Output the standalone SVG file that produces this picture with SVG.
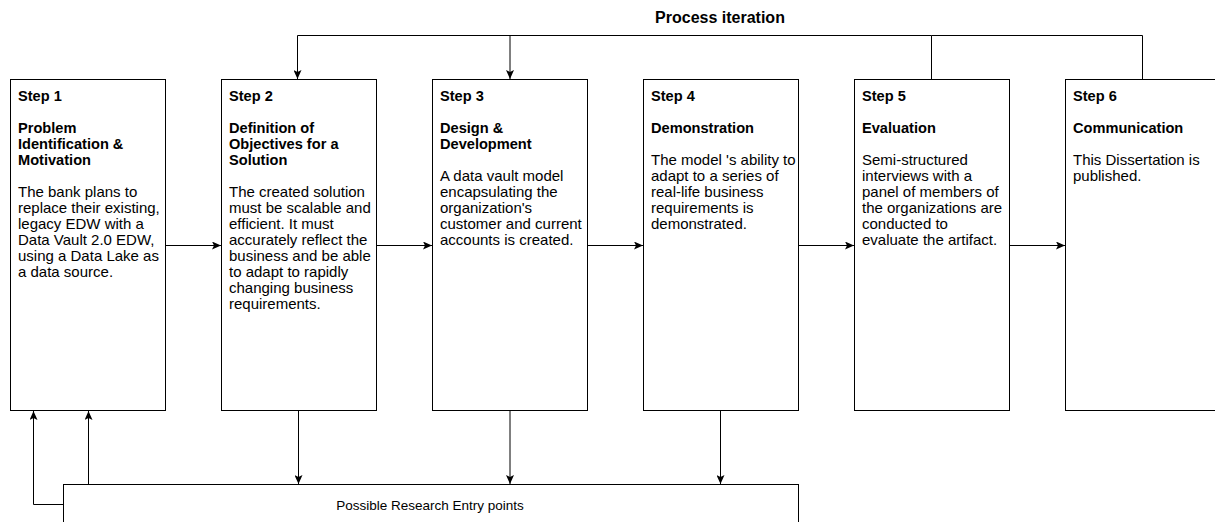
<svg xmlns="http://www.w3.org/2000/svg" width="1215" height="522" viewBox="0 0 1215 522">
<style>
.box{fill:#fff;stroke:#000;stroke-width:1}
.c{fill:none;stroke:#000;stroke-width:1}
text{font-family:"Liberation Sans",Arial,sans-serif;fill:#000}
.b{font-weight:bold;font-size:14.6px}
.t{font-size:15px}
</style>
<defs>
<marker id="ah" viewBox="0 0 9 8" refX="9" refY="4" markerWidth="9" markerHeight="8" markerUnits="userSpaceOnUse" orient="auto">
<path d="M0,0 L9,4 L0,8 L2,4 Z" fill="#000"/>
</marker>
</defs>
<rect width="1215" height="522" fill="#fff"/>
<g id="connectors">
<path class="c" d="M931.5,79.5 V35.5 H297.5 V79" marker-end="url(#ah)"/>
<path class="c" d="M1142.5,79.5 V35.5 H931.5"/>
<path class="c" d="M510,35.5 V79" marker-end="url(#ah)"/>
<path class="c" d="M165.5,245.5 H221" marker-end="url(#ah)"/>
<path class="c" d="M376.5,245.5 H432" marker-end="url(#ah)"/>
<path class="c" d="M587.5,245.5 H643" marker-end="url(#ah)"/>
<path class="c" d="M798.5,245.5 H854" marker-end="url(#ah)"/>
<path class="c" d="M1009.5,245.5 H1065" marker-end="url(#ah)"/>
<path class="c" d="M298.5,410.5 V484" marker-end="url(#ah)"/>
<path class="c" d="M510,410.5 V484" marker-end="url(#ah)"/>
<path class="c" d="M720.5,410.5 V484" marker-end="url(#ah)"/>
<path class="c" d="M88.5,484.5 V411" marker-end="url(#ah)"/>
<path class="c" d="M63.5,504.5 H33.5 V411" marker-end="url(#ah)"/>
</g>
<text class="b" x="720" y="23" text-anchor="middle" style="font-size:16px">Process iteration</text>
<g id="step1">
<rect class="box" x="10.5" y="79.5" width="155" height="331"/>
<text class="b" x="18" y="101">Step 1</text>
<text class="b" x="18" y="132.5">Problem</text>
<text class="b" x="18" y="148.5">Identification &amp;</text>
<text class="b" x="18" y="164.5">Motivation</text>
<text class="t" x="18" y="197">The bank plans to</text>
<text class="t" x="18" y="213">replace their existing,</text>
<text class="t" x="18" y="229">legacy EDW with a</text>
<text class="t" x="18" y="245">Data Vault 2.0 EDW,</text>
<text class="t" x="18" y="261">using a Data Lake as</text>
<text class="t" x="18" y="277">a data source.</text>
</g>
<g id="step2">
<rect class="box" x="221.5" y="79.5" width="155" height="331"/>
<text class="b" x="229" y="101">Step 2</text>
<text class="b" x="229" y="132.5">Definition of</text>
<text class="b" x="229" y="148.5">Objectives for a</text>
<text class="b" x="229" y="164.5">Solution</text>
<text class="t" x="229" y="197">The created solution</text>
<text class="t" x="229" y="213">must be scalable and</text>
<text class="t" x="229" y="229">efficient. It must</text>
<text class="t" x="229" y="245">accurately reflect the</text>
<text class="t" x="229" y="261">business and be able</text>
<text class="t" x="229" y="277">to adapt to rapidly</text>
<text class="t" x="229" y="293">changing business</text>
<text class="t" x="229" y="309">requirements.</text>
</g>
<g id="step3">
<rect class="box" x="432.5" y="79.5" width="155" height="331"/>
<text class="b" x="440" y="101">Step 3</text>
<text class="b" x="440" y="132.5">Design &amp;</text>
<text class="b" x="440" y="148.5">Development</text>
<text class="t" x="440" y="181">A data vault model</text>
<text class="t" x="440" y="197">encapsulating the</text>
<text class="t" x="440" y="213">organization's</text>
<text class="t" x="440" y="229">customer and current</text>
<text class="t" x="440" y="245">accounts is created.</text>
</g>
<g id="step4">
<rect class="box" x="643.5" y="79.5" width="155" height="331"/>
<text class="b" x="651" y="101">Step 4</text>
<text class="b" x="651" y="132.5">Demonstration</text>
<text class="t" x="651" y="165">The model 's ability to</text>
<text class="t" x="651" y="181">adapt to a series of</text>
<text class="t" x="651" y="197">real-life business</text>
<text class="t" x="651" y="213">requirements is</text>
<text class="t" x="651" y="229">demonstrated.</text>
</g>
<g id="step5">
<rect class="box" x="854.5" y="79.5" width="155" height="331"/>
<text class="b" x="862" y="101">Step 5</text>
<text class="b" x="862" y="132.5">Evaluation</text>
<text class="t" x="862" y="165">Semi-structured</text>
<text class="t" x="862" y="181">interviews with a</text>
<text class="t" x="862" y="197">panel of members of</text>
<text class="t" x="862" y="213">the organizations are</text>
<text class="t" x="862" y="229">conducted to</text>
<text class="t" x="862" y="245">evaluate the artifact.</text>
</g>
<g id="step6">
<rect class="box" x="1065.5" y="79.5" width="155" height="331"/>
<text class="b" x="1073" y="101">Step 6</text>
<text class="b" x="1073" y="132.5">Communication</text>
<text class="t" x="1073" y="165">This Dissertation is</text>
<text class="t" x="1073" y="181">published.</text>
</g>
<g id="entry">
<rect class="box" x="63.5" y="484.5" width="735" height="60"/>
<text x="430" y="510" text-anchor="middle" style="font-size:13.5px">Possible Research Entry points</text>
</g>
</svg>
